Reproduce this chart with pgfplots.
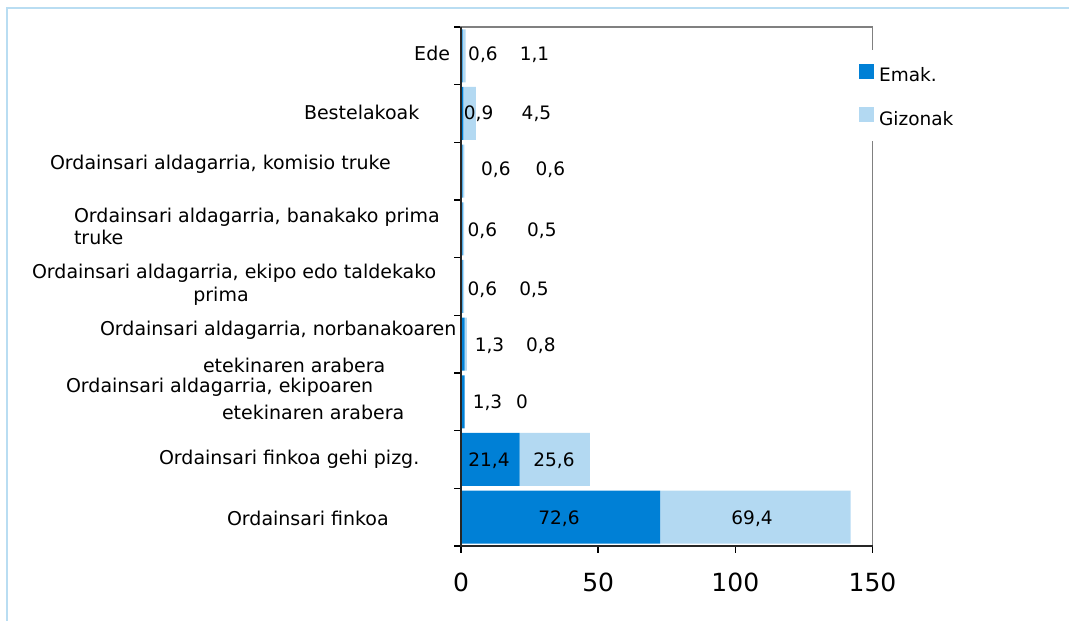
\documentclass[border=0pt]{standalone}
\usepackage{pgfplots}
\pgfplotsset{compat=1.18}
\usepackage{fontspec}
\setmainfont{DejaVu Sans}
\definecolor{emak}{RGB}{0,128,214}
\definecolor{giz}{RGB}{179,217,242}
\definecolor{frm}{RGB}{185,221,242}
\newcommand\Lb[3]{\put(#1,#2){\makebox[0pt][l]{#3}}}
\newcommand\Rb[3]{\put(#1,#2){\makebox[0pt][r]{#3}}}
\newcommand\Cb[3]{\put(#1,#2){\makebox[0pt]{#3}}}
\newcommand\lab[1]{\begin{picture}(0,0)#1\end{picture}}
\newcommand\dlab{\fontsize{18.5}{22}\selectfont}
\newcommand\clab{\fontsize{19}{22}\selectfont}
\setlength{\unitlength}{1pt}
\tikzset{dl/.style={font=\dlab, inner sep=0pt, text depth=0pt}}
\begin{document}
\begin{tikzpicture}[x=1pt,y=1pt]
\useasboundingbox (0,0) rectangle (1069,621);
\draw[frm, line width=2pt] (7,0) -- (7,613) -- (1069,613);
\begin{axis}[
  at={(461pt,75pt)}, anchor=south west,
  scale only axis, width=411.5pt, height=519pt,
  xbar stacked, bar width=53pt,
  xmin=0, xmax=150, ymin=-0.5, ymax=8.5,
  clip=false,
  axis line style={draw=gray, line width=1.2pt},
  xtick={0,50,100,150}, xtick pos=bottom,
  ytick={-0.5,0.5,1.5,2.5,3.5,4.5,5.5,6.5,7.5,8.5}, ytick pos=left,
  yticklabels={},
  extra y ticks={0,1,2,3,4,5,6,7,8},
  extra y tick style={major tick length=0pt},
  extra y tick labels={
    {\lab{\Lb{-234}{-8.8}{Ordainsari finkoa}}},
    {\lab{\Lb{-302}{-5.5}{Ordainsari finkoa gehi pizg.}}},
    {\lab{\Lb{-395}{9.1}{Ordainsari aldagarria, ekipoaren}\Lb{-239}{-17.5}{etekinaren arabera}}},
    {\lab{\Lb{-361}{8.2}{Ordainsari aldagarria, norbanakoaren}\Lb{-258}{-28.5}{etekinaren arabera}}},
    {\lab{\Lb{-429}{8.2}{Ordainsari aldagarria, ekipo edo taldekako}\Cb{-240}{-15.5}{prima}}},
    {\lab{\Lb{-387}{6.3}{Ordainsari aldagarria, banakako prima}\Lb{-387}{-15.7}{truke}}},
    {\lab{\Lb{-411}{1.6}{Ordainsari aldagarria, komisio truke}}},
    {\lab{\Lb{-157}{-6}{Bestelakoak}}},
    {\lab{\Rb{-11}{-4.2}{Ede}}}
  },
  yticklabel style={font=\clab, inner sep=0pt, anchor=center},
  xticklabel style={font=\fontsize{25}{30}\selectfont, inner sep=0pt, anchor=north, yshift=-19.5pt},
  /pgf/number format/assume math mode=true,
  tick align=outside, major tick length=7pt,
  tick style={black, line width=1.5pt},
  legend style={at={(0.962,0.957)}, anchor=north west, draw=none, fill=white,
    inner xsep=2pt, inner ysep=14pt, font=\dlab, row sep=23.6pt, column sep=5pt,
    nodes={inner sep=0pt}},
  legend cell align=left,
  legend image code/.code={\fill[#1] (0pt,-3.5pt) rectangle (15pt,12pt);},
]
\addplot[fill=emak, draw=none] coordinates {(72.6,0) (21.4,1) (1.3,2) (1.3,3) (0.6,4) (0.6,5) (0.6,6) (0.9,7) (0.6,8)};
\addplot[fill=giz, draw=none] coordinates {(69.4,0) (25.6,1) (0,2) (0.8,3) (0.5,4) (0.5,5) (0.6,6) (4.5,7) (1.1,8)};
\legend{Emak., Gizonak}
\coordinate (a1) at (axis cs:8.0,8.03);   \coordinate (b1) at (axis cs:26.8,8.03);
\coordinate (a2) at (axis cs:6.4,7.01);   \coordinate (b2) at (axis cs:27.5,7.01);
\coordinate (a3) at (axis cs:12.7,6.04);  \coordinate (b3) at (axis cs:32.6,6.04);
\coordinate (a4) at (axis cs:7.8,4.98);   \coordinate (b4) at (axis cs:29.5,4.98);
\coordinate (a5) at (axis cs:7.8,3.97);   \coordinate (b5) at (axis cs:26.6,3.97);
\coordinate (a6) at (axis cs:10.4,2.985); \coordinate (b6) at (axis cs:29.1,2.985);
\coordinate (a7) at (axis cs:9.65,2.0);   \coordinate (b7) at (axis cs:22.2,2.0);
\coordinate (a8) at (axis cs:10.2,0.99);  \coordinate (b8) at (axis cs:33.9,0.99);
\coordinate (a9) at (axis cs:35.7,0.0);   \coordinate (b9) at (axis cs:106.1,0.0);
\coordinate (tl) at (rel axis cs:0,1);
\coordinate (bl) at (rel axis cs:0,0);
\coordinate (br) at (rel axis cs:1,0);
\end{axis}
\draw[black!85, line width=2pt] (tl) -- (bl) -- (br);
\node[dl] at (a1) {0,6};  \node[dl] at (b1) {1,1};
\node[dl] at (a2) {0,9};  \node[dl] at (b2) {4,5};
\node[dl] at (a3) {0,6};  \node[dl] at (b3) {0,6};
\node[dl] at (a4) {0,6};  \node[dl] at (b4) {0,5};
\node[dl] at (a5) {0,6};  \node[dl] at (b5) {0,5};
\node[dl] at (a6) {1,3};  \node[dl] at (b6) {0,8};
\node[dl] at (a7) {1,3};  \node[dl] at (b7) {0};
\node[dl] at (a8) {21,4}; \node[dl] at (b8) {25,6};
\node[dl] at (a9) {72,6}; \node[dl] at (b9) {69,4};
\end{tikzpicture}
\end{document}
